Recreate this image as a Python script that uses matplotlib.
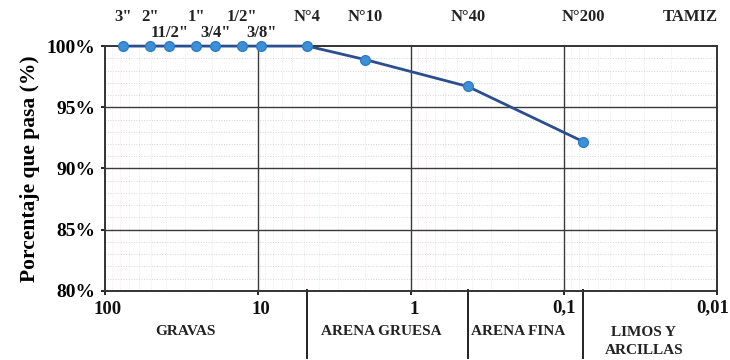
import matplotlib.pyplot as plt
import matplotlib.transforms as mtransforms
from matplotlib.ticker import FixedLocator, NullFormatter, MultipleLocator

# sieve openings (mm) and percent passing
tamices = ['3"', '2"', '11/2"', '1"', '3/4"', '1/2"', '3/8"', 'N°4', 'N°10', 'N°40', 'N°200']
abertura_mm = [76.2, 50.8, 38.1, 25.4, 19.05, 12.7, 9.525, 4.75, 2.0, 0.425, 0.075]
pasa = [100.0, 100.0, 100.0, 100.0, 100.0, 100.0, 100.0, 100.0, 98.9, 96.7, 92.2]

# second row of sieve labels (the ones that would overlap)
fila_baja = ['11/2"', '3/4"', '3/8"']

x_ticks = [100, 10, 1, 0.1, 0.01]
x_tick_labels = ['100', '10', '1', '0,1', '0,01']
x_minor = [m * d for d in (0.01, 0.1, 1, 10) for m in range(2, 10)]
y_ticks = [80, 85, 90, 95, 100]
y_tick_labels = ['80%', '85%', '90%', '95%', '100%']

# soil fraction limits (mm) and names
limites = [4.75, 0.425, 0.075]
fracciones = ['GRAVAS', 'ARENA GRUESA', 'ARENA FINA', 'LIMOS Y\nARCILLAS']
fraccion_x = [30, 1.57, 0.2, 0.03]

plt.rcParams['font.family'] = ['Liberation Serif', 'DejaVu Serif']
plt.rcParams['font.weight'] = 'bold'

fig = plt.figure(figsize=[7.3, 3.6], dpi=100)
ax = fig.add_axes([0.144, 0.192, 0.838, 0.680])
ax.set_axisbelow(True)

ax.set_xscale('log')
ax.set_xlim(100, 0.01)
ax.set_ylim(80, 100)

ax.plot(abertura_mm, pasa, color='#2b4f8e', lw=2, zorder=3,
        marker='o', markersize=7, markerfacecolor='#3d8fd6',
        markeredgecolor='#2f7cc4', clip_on=False)

ax.xaxis.set_major_locator(FixedLocator(x_ticks))
ax.xaxis.set_major_formatter(NullFormatter())
ax.xaxis.set_minor_locator(FixedLocator(x_minor))
ax.xaxis.set_minor_formatter(NullFormatter())
ax.yaxis.set_major_locator(FixedLocator(y_ticks))
ax.set_yticklabels(y_tick_labels, fontsize=14, fontweight='bold')
ax.yaxis.set_minor_locator(MultipleLocator(1))
ax.tick_params(axis='both', which='major', length=3, width=1.2, pad=4)
ax.tick_params(axis='both', which='minor', length=0)

# x tick labels; the decimal ones sit to the left of their tick
for x, lab in zip(x_ticks, x_tick_labels):
    decimal = ',' in lab
    ax.annotate(lab, xy=(x, 0), xycoords=ax.get_xaxis_transform(),
                xytext=(8.5 if decimal else 2, -6 if decimal else -7),
                textcoords='offset points', ha='right' if decimal else 'center',
                va='top', fontsize=13.5, fontweight='bold', color='#111111')

# faint minor grid below, solid major lines on top
ax.grid(True, which='minor', axis='y', color='#d4d4d4', lw=0.7, ls=':')
ax.grid(True, which='minor', axis='x', color='#f0e2e6', lw=0.6, ls=':')
for x in x_ticks[1:-1]:
    ax.axvline(x, color='#3a3a3a', lw=1.0, zorder=1.5)
for y in y_ticks[1:-1]:
    ax.axhline(y, color='#3a3a3a', lw=1.0, zorder=1.5)
for s in ax.spines.values():
    s.set_color('#333333')
    s.set_linewidth(1.4)
    s.set_zorder(2)

ax.set_ylabel('Porcentaje que pasa (%)', fontsize=15.5, fontweight='bold', labelpad=5)

# sieve names above the chart
trans = mtransforms.blended_transform_factory(ax.transData, fig.transFigure)
for nombre, x in zip(tamices, abertura_mm):
    y = 0.907 if nombre in fila_baja else 0.952
    ax.text(x, y, nombre, transform=trans, ha='center', va='center',
            fontsize=12, fontweight='bold', color='#222222')
fig.text(0.945, 0.952, 'TAMIZ', ha='center', va='center',
         fontsize=12, fontweight='bold', color='#222222')

# soil fraction separators and names below the axis
for x in limites:
    ax.plot([x, x], [0.195, 0.005], transform=trans, color='#222222',
            lw=1.4, clip_on=False)
for nombre, x in zip(fracciones, fraccion_x):
    y = 0.05 if '\n' in nombre else 0.078
    ax.text(x, y, nombre, transform=trans, ha='center', va='center',
            fontsize=11, fontweight='bold', color='#222222', linespacing=1.5)

fig.savefig('out.png', dpi=100)
